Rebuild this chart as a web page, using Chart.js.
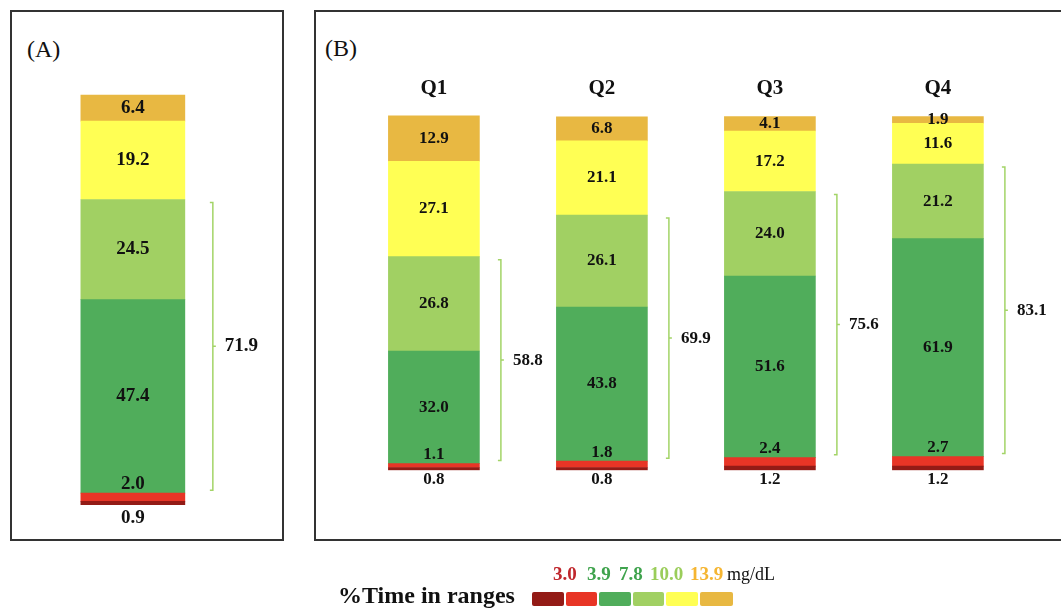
<!DOCTYPE html>
<html><head><meta charset="utf-8">
<script src="https://cdn.jsdelivr.net/npm/chart.js@4.4.1/dist/chart.umd.min.js"></script>
<style>
html,body{margin:0;padding:0;background:#fff;}
body{width:1061px;height:608px;position:relative;overflow:hidden;font-family:"Liberation Serif","DejaVu Serif",serif;color:#111;}
.box{position:absolute;border:2px solid #333;box-sizing:border-box;}
.t{position:absolute;line-height:1;white-space:nowrap;}
canvas{position:absolute;top:0;}
.sw{position:absolute;top:592px;height:14px;border-radius:2px;}
</style></head><body>
<div class="box" style="left:10px;top:10px;width:274px;height:531px"></div>
<div class="box" style="left:314px;top:10px;width:760px;height:531px"></div>
<div class="t" style="left:27px;top:36.5px;font-size:24px">(A)</div>
<div class="t" style="left:325px;top:36px;font-size:24px">(B)</div>
<canvas id="cA" width="280" height="608" style="left:10px"></canvas>
<canvas id="cB" width="761" height="608" style="left:300px"></canvas>
<div class="t" style="left:338px;top:583px;font-size:24px;font-weight:bold">%Time in ranges</div>
<div id="legend"></div>
<script>
// ---- data ----
const panelACategories = ['All'];
const panelBCategories = ['Q1', 'Q2', 'Q3', 'Q4'];
const seriesNames = ['<3.0', '3.0–3.9', '3.9–7.8', '7.8–10.0', '10.0–13.9', '>13.9'];
const seriesColors = ['#931b16', '#e83526', '#50ad5b', '#a1d063', '#ffff54', '#e8b842'];
const thresholdLabels = ['3.0', '3.9', '7.8', '10.0', '13.9'];
const thresholdColors = ['#c0272d', '#3fa34d', '#3fa34d', '#9acd5a', '#f5b531'];
const unitLabel = 'mg/dL';

const veryLowA = [0.9];
const lowA = [2.0];
const tightA = [47.4];
const upperA = [24.5];
const highA = [19.2];
const veryHighA = [6.4];
const tirA = [71.9];

const veryLowB = [0.8, 0.8, 1.2, 1.2];
const lowB = [1.1, 1.8, 2.4, 2.7];
const tightB = [32.0, 43.8, 51.6, 61.9];
const upperB = [26.8, 26.1, 24.0, 21.2];
const highB = [27.1, 21.1, 17.2, 11.6];
const veryHighB = [12.9, 6.8, 4.1, 1.9];
const tirB = [58.8, 69.9, 75.6, 83.1];

// ---- legend ----
const legendX = [553, 587, 619, 650, 690];
const swatchX = [532, 566, 599, 633, 666, 700];
const swatchW = [32, 31, 32, 31, 32, 33];
const leg = document.getElementById('legend');
thresholdLabels.forEach((t, i) => {
  const d = document.createElement('div');
  d.className = 't';
  d.style.cssText = `left:${legendX[i]}px;top:564px;font-size:19px;font-weight:bold;color:${thresholdColors[i]}`;
  d.textContent = t;
  leg.appendChild(d);
});
const u = document.createElement('div');
u.className = 't';
u.style.cssText = 'left:727px;top:565px;font-size:18px;color:#111';
u.textContent = unitLabel;
leg.appendChild(u);
seriesColors.forEach((c, i) => {
  const s = document.createElement('div');
  s.className = 'sw';
  s.style.cssText = `left:${swatchX[i]}px;width:${swatchW[i]}px;background:${c}`;
  leg.appendChild(s);
});

// ---- plugin ----
function segPlugin(cfg) {
  return {
    id: 'segLabels',
    afterDatasetsDraw(chart) {
      const ctx = chart.ctx;
      const ds = chart.data.datasets;
      ctx.save();
      ctx.font = `bold ${cfg.font}px "Liberation Serif"`;
      ctx.fillStyle = '#111';
      ctx.textAlign = 'center';
      ctx.textBaseline = 'middle';
      ds.forEach((d, i) => {
        const meta = chart.getDatasetMeta(i);
        meta.data.forEach((bar, j) => {
          const p = bar.getProps(['x', 'y', 'base'], true);
          let y;
          if (i === 0) y = Math.max(p.base, p.y) + cfg.below;
          else if (i === 1) y = Math.min(p.y, p.base) - cfg.above;
          else y = (p.y + p.base) / 2;
          ctx.fillText(d.data[j].toFixed(1), p.x, y);
        });
      });
      // brackets for time in range (3.9-10.0)
      const ys = chart.scales.y;
      const meta0 = chart.getDatasetMeta(0);
      ctx.strokeStyle = '#a3d467';
      ctx.lineWidth = 1.5;
      meta0.data.forEach((bar, j) => {
        const p = bar.getProps(['x', 'width'], true);
        const lo = ds[0].data[j] + ds[1].data[j];
        const hi = lo + ds[2].data[j] + ds[3].data[j];
        const yTop = ys.getPixelForValue(hi) + cfg.inset;
        const yBot = ys.getPixelForValue(lo) - cfg.inset;
        const x = p.x + p.width / 2 + cfg.gap;
        const mid = (yTop + yBot) / 2;
        ctx.beginPath();
        ctx.moveTo(x - 3, yTop); ctx.lineTo(x, yTop); ctx.lineTo(x, yBot); ctx.lineTo(x - 3, yBot);
        ctx.moveTo(x, mid); ctx.lineTo(x + 3, mid);
        ctx.stroke();
        ctx.textAlign = 'left';
        ctx.fillText(cfg.tir[j].toFixed(1), x + 12, mid);
      });
      ctx.restore();
    }
  };
}

function makeDatasets(arrs, thickness) {
  return arrs.map((a, i) => ({
    label: seriesNames[i],
    data: a,
    backgroundColor: seriesColors[i],
    borderWidth: 0,
    barThickness: thickness
  }));
}

const common = {
  responsive: false,
  animation: false,
  devicePixelRatio: 1,
  plugins: { legend: { display: false }, tooltip: { enabled: false }, title: { display: false } }
};

new Chart(document.getElementById('cA'), {
  type: 'bar',
  data: {
    labels: panelACategories,
    datasets: makeDatasets([veryLowA, lowA, tightA, upperA, highA, veryHighA], 104)
  },
  options: Object.assign({}, common, {
    layout: { padding: { top: 76.2, bottom: 103, left: 20, right: 54.3 } },
    scales: {
      x: { stacked: true, display: false },
      y: { stacked: true, display: false, min: 0, max: 105 }
    }
  }),
  plugins: [segPlugin({ font: 19, below: 13, above: 9, inset: 3, gap: 28, tir: tirA })]
});

new Chart(document.getElementById('cB'), {
  type: 'bar',
  data: {
    labels: panelBCategories,
    datasets: makeDatasets([veryLowB, lowB, tightB, upperB, highB, veryHighB], 91)
  },
  options: Object.assign({}, common, {
    layout: { padding: { top: 75.5, bottom: 137.7, left: 49.9, right: 39.1 } },
    scales: {
      x: {
        stacked: true, position: 'top',
        grid: { display: false, drawTicks: false },
        border: { display: false },
        ticks: { padding: 0, color: '#111', font: { family: '"Liberation Serif"', size: 21, weight: 'bold' } }
      },
      y: { stacked: true, display: false, min: 0, max: 105 }
    }
  }),
  plugins: [segPlugin({ font: 17, below: 9, above: 9, inset: 3, gap: 21.5, tir: tirB })]
});
</script>
</body></html>
